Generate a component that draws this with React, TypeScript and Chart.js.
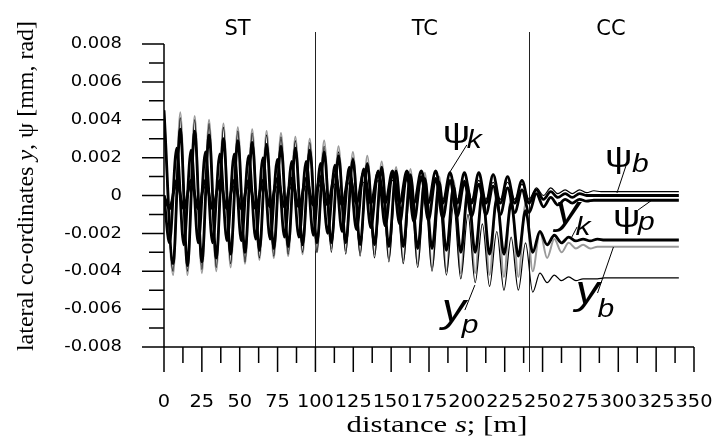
import React, { useEffect, useRef } from 'react';
import { Chart, registerables } from 'chart.js';
Chart.register(...registerables);

// extrema positions (distance s [m]) for lateral displacements y
const gridA = [0, 6.0, 10.75, 15.5, 20.25, 25.0, 29.75, 34.5, 39.25, 44.0,
  48.75, 53.5, 58.25, 63.0, 67.75, 72.5, 77.25, 82.0, 86.75, 91.5,
  96.25, 101.0, 105.75, 110.5, 115.25, 120.0, 124.75, 129.5, 134.25, 139.0,
  143.75, 148.5, 153.25, 158.0, 162.75, 167.5, 172.25, 177.0, 181.75, 186.5,
  191.25, 196.0, 200.75, 205.5, 210.25, 215.0, 219.75, 224.5, 229.25, 234.0,
  238.75, 243.5, 248.25, 253.0, 257.75, 262.5, 267.25, 272.0, 276.75, 281.5,
  286.25, 291.0, 300, 340];

// extrema positions for yaw angles psi
const gridB = [0, 3.6, 8.4, 13.1, 17.9, 22.6, 27.4, 32.1, 36.9, 41.6,
  46.4, 51.1, 55.9, 60.6, 65.4, 70.1, 74.9, 79.6, 84.4, 89.1,
  93.9, 98.6, 103.4, 108.1, 112.9, 117.6, 122.4, 127.1, 131.9, 136.6,
  141.4, 146.1, 150.9, 155.6, 160.4, 165.1, 169.9, 174.6, 179.4, 184.1,
  188.9, 193.6, 198.4, 203.1, 207.9, 212.6, 217.4, 222.1, 226.9, 231.6,
  236.4, 241.1, 245.9, 250.6, 255.4, 260.1, 264.9, 269.6, 274.4, 279.1,
  283.9, 288.6, 300, 340];

const yP = [0.0045, -0.0042, 0.0044, -0.0042, 0.0042, -0.0041, 0.0040, -0.0040, 0.0038, -0.0038,
  0.0036, -0.0036, 0.0035, -0.0034, 0.0034, -0.0033, 0.0033, -0.0032, 0.0031, -0.0031,
  0.0030, -0.0030, 0.0029, -0.0028, 0.0026, -0.0029, 0.0023, -0.0030, 0.0021, -0.0031,
  0.0018, -0.0033, 0.0015, -0.0034, 0.0014, -0.0036, 0.0012, -0.0038, 0.0010, -0.0040,
  0.0008, -0.0041, 0.0006, -0.0041, 0.0004, -0.0042, 0.0002, -0.0043, 0.0000, -0.0043,
  -0.0004, -0.0040, -0.0019, -0.0033, -0.0023, -0.0030, -0.0025, -0.0028, -0.0026, -0.0028,
  -0.0027, -0.0027, -0.0027, -0.0027];

const yK = [0.0045, -0.0036, 0.0035, -0.0037, 0.0034, -0.0035, 0.0032, -0.0033, 0.0030, -0.0031,
  0.0029, -0.0030, 0.0028, -0.0029, 0.0027, -0.0028, 0.0026, -0.0027, 0.0025, -0.0026,
  0.0024, -0.0025, 0.0023, -0.0025, 0.0021, -0.0025, 0.0019, -0.0026, 0.0017, -0.0026,
  0.0015, -0.0027, 0.0013, -0.0027, 0.0011, -0.0028, 0.0009, -0.0028, 0.0007, -0.0029,
  0.0005, -0.0030, 0.0003, -0.0030, 0.0001, -0.0031, -0.0002, -0.0031, -0.0004, -0.0032,
  -0.0008, -0.0030, -0.0019, -0.0026, -0.0021, -0.0025, -0.0022, -0.0024, -0.0023, -0.0024,
  -0.0023, -0.00235, -0.00235, -0.00235];

const yB = [0.0045, -0.0040, 0.0041, -0.0040, 0.0040, -0.0039, 0.0038, -0.0038, 0.0036, -0.0036,
  0.0034, -0.0035, 0.0033, -0.0033, 0.0032, -0.0032, 0.0031, -0.0031, 0.0029, -0.0030,
  0.0028, -0.0030, 0.0026, -0.0030, 0.0023, -0.0031, 0.0020, -0.0032, 0.0017, -0.0033,
  0.0013, -0.0035, 0.0010, -0.0036, 0.0006, -0.0038, 0.0003, -0.0040, -0.0001, -0.0042,
  -0.0005, -0.0044, -0.0010, -0.0046, -0.0015, -0.0048, -0.0019, -0.0050, -0.0022, -0.0050,
  -0.0025, -0.0051, -0.0041, -0.0046, -0.0042, -0.0045, -0.0043, -0.0045, -0.0044, -0.0044,
  -0.0044, -0.00435, -0.00435, -0.00435];

const psiP = [0.0000, -0.0025, 0.0025, -0.0026, 0.0024, -0.0025, 0.0023, -0.0025, 0.0022, -0.0024,
  0.0022, -0.0024, 0.0021, -0.0023, 0.0020, -0.0023, 0.0019, -0.0022, 0.0018, -0.0022,
  0.0018, -0.0021, 0.0017, -0.0020, 0.0016, -0.0019, 0.0015, -0.0018, 0.0014, -0.0017,
  0.0013, -0.0016, 0.0012, -0.0015, 0.0011, -0.0014, 0.0010, -0.0013, 0.0009, -0.0012,
  0.0008, -0.0011, 0.0007, -0.0011, 0.0006, -0.0010, 0.0005, -0.0010, 0.0004, -0.0009,
  0.0003, -0.0009, 0.0001, -0.0006, -0.0001, -0.0005, -0.0002, -0.0004, -0.0002, -0.0003,
  -0.00025, -0.00025, -0.00025, -0.00025];

const psiK = [0.0000, -0.0007, 0.0008, -0.0007, 0.0008, -0.0007, 0.0008, -0.0007, 0.0008, -0.0007,
  0.0008, -0.0007, 0.0008, -0.0007, 0.0008, -0.0006, 0.0009, -0.0006, 0.0009, -0.0006,
  0.0009, -0.0005, 0.0010, -0.0005, 0.0011, -0.0005, 0.0011, -0.0004, 0.0012, -0.0004,
  0.0012, -0.0004, 0.0013, -0.0004, 0.0013, -0.0004, 0.0013, -0.0004, 0.0013, -0.0004,
  0.0012, -0.0004, 0.0012, -0.0004, 0.0012, -0.0004, 0.0011, -0.0004, 0.0010, -0.0004,
  0.0008, -0.0004, 0.0003, -0.0002, 0.0002, -0.0001, 0.0001, -0.0001, 0.0001, 0.0000,
  0.0000, 0.0000, 0.0000, 0.0000];

const psiB = [0.0000, -0.0005, 0.0005, -0.0005, 0.0005, -0.0005, 0.0005, -0.0005, 0.0005, -0.0005,
  0.0005, -0.0005, 0.0005, -0.0005, 0.0005, -0.0005, 0.0005, -0.0004, 0.0005, -0.0004,
  0.0005, -0.0004, 0.0006, -0.0004, 0.0006, -0.0004, 0.0007, -0.0004, 0.0007, -0.0003,
  0.0008, -0.0003, 0.0008, -0.0003, 0.0008, -0.0003, 0.0008, -0.0003, 0.0008, -0.0002,
  0.0008, -0.0002, 0.0008, -0.0002, 0.0008, -0.0002, 0.0007, -0.0002, 0.0007, -0.0002,
  0.0006, -0.0002, 0.0004, 0.0000, 0.0004, 0.0001, 0.0003, 0.0001, 0.0003, 0.00015,
  0.00025, 0.0002, 0.0002, 0.0002];

const xMajorTicks = [0, 25, 50, 75, 100, 125, 150, 175, 200, 225, 250, 275, 300, 325, 350];
const xTickLabels = ['0', '25', '50', '75', '100', '125', '150', '175', '200', '225', '250', '275', '300', '325', '350'];
const xMinorTicks = [12.5, 37.5, 62.5, 87.5, 112.5, 137.5, 162.5, 187.5, 212.5, 237.5, 262.5, 287.5, 312.5, 337.5];
const yMajorTicks = [0.008, 0.006, 0.004, 0.002, 0, -0.002, -0.004, -0.006, -0.008];
const yTickLabels = ['0.008', '0.006', '0.004', '0.002', '0', '-0.002', '-0.004', '-0.006', '-0.008'];
const yMinorTicks = [0.007, 0.005, 0.003, 0.001, -0.001, -0.003, -0.005, -0.007];

const sectionBounds = [100, 241];
const sectionNames = ['ST', 'TC', 'CC'];
const sectionLabelS = [48.6, 172.2, 295.2];

// annotations: main glyph, subscript, positions in data units
const annotations = [
  { main: 'ψ', sub: 'k', italicMain: false, at: [184.1, 0.00277], subAt: [200.0, 0.00251], from: [200.0, 0.00267], to: [188.8, 0.00124] },
  { main: 'ψ', sub: 'b', italicMain: false, at: [291.2, 0.00150], subAt: [309.1, 0.00124], from: [305.7, 0.00172], to: [299.1, 0.00013] },
  { main: 'ψ', sub: 'p', italicMain: false, at: [296.5, -0.00166], subAt: [313.0, -0.00182], from: [322.3, -0.00024], to: [313.0, -0.00077] },
  { main: 'y', sub: 'k', italicMain: true, at: [258.6, -0.00150], subAt: [271.8, -0.00209], from: [268.8, -0.00227], to: [272.8, -0.00166] },
  { main: 'y', sub: 'b', italicMain: true, at: [271.8, -0.00573], subAt: [286.3, -0.00642], from: [286.3, -0.00515], to: [296.8, -0.00272] },
  { main: 'y', sub: 'p', italicMain: true, at: [183.5, -0.00668], subAt: [196.7, -0.00726], from: [198.7, -0.00605], to: [205.3, -0.00473] },
];

const SANS = '"Liberation Sans", Arial, sans-serif';
const DSANS = '"DejaVu Sans", sans-serif';
const SERIF = '"Liberation Serif", "Times New Roman", serif';

function drawParts(ctx: CanvasRenderingContext2D, parts: [string, string][], x: number, y: number, align: string, sx: number, sy = 1, rot = 0) {
  ctx.save();
  ctx.translate(x, y);
  if (rot) ctx.rotate(rot);
  ctx.scale(sx, sy);
  const widths = parts.map(([t, f]) => { ctx.font = f; return ctx.measureText(t).width; });
  const total = widths.reduce((a, b) => a + b, 0);
  let cx = align === 'center' ? -total / 2 : align === 'right' ? -total : 0;
  ctx.textAlign = 'left';
  parts.forEach(([t, f], i) => { ctx.font = f; ctx.fillText(t, cx, 0); cx += widths[i]; });
  ctx.restore();
}

const decorPlugin = {
  id: 'decor',
  beforeDatasetsDraw(chart: any) {
    const ctx: CanvasRenderingContext2D = chart.ctx;
    const xs = chart.scales.x;
    const ca = chart.chartArea;
    ctx.save();
    ctx.strokeStyle = '#222';
    ctx.lineWidth = 1;
    sectionBounds.forEach((s) => {
      const px = Math.round(xs.getPixelForValue(s)) + 0.5;
      ctx.beginPath();
      ctx.moveTo(px, ca.top - 12);
      ctx.lineTo(px, ca.bottom + 25);
      ctx.stroke();
    });
    ctx.restore();
  },
  afterDraw(chart: any) {
    const ctx: CanvasRenderingContext2D = chart.ctx;
    const xs = chart.scales.x;
    const ys = chart.scales.y;
    const ca = chart.chartArea;
    ctx.save();
    ctx.strokeStyle = '#000';
    ctx.fillStyle = '#000';
    ctx.lineWidth = 1.5;
    const left = xs.getPixelForValue(0);
    const bottom = ys.getPixelForValue(-0.008);
    const top = ys.getPixelForValue(0.008);
    const right = xs.getPixelForValue(350);
    ctx.beginPath();
    ctx.moveTo(left, top);
    ctx.lineTo(left, bottom + 25);
    ctx.moveTo(left - 22, bottom);
    ctx.lineTo(right, bottom);
    yMajorTicks.forEach((v) => { const p = ys.getPixelForValue(v); ctx.moveTo(left - 22, p); ctx.lineTo(left, p); });
    yMinorTicks.forEach((v) => { const p = ys.getPixelForValue(v); ctx.moveTo(left - 15, p); ctx.lineTo(left, p); });
    xMajorTicks.forEach((v) => { const p = xs.getPixelForValue(v); ctx.moveTo(p, bottom); ctx.lineTo(p, bottom + 25); });
    xMinorTicks.forEach((v) => { const p = xs.getPixelForValue(v); ctx.moveTo(p, bottom); ctx.lineTo(p, bottom + 16); });
    ctx.stroke();

    ctx.textBaseline = 'middle';
    yMajorTicks.forEach((v, i) => {
      drawParts(ctx, [[yTickLabels[i], `16px ${DSANS}`]], left - 42, ys.getPixelForValue(v), 'right', 1.12);
    });
    xMajorTicks.forEach((v, i) => {
      drawParts(ctx, [[xTickLabels[i], `17px ${DSANS}`]], xs.getPixelForValue(v), bottom + 56, 'center', 1.14);
    });
    drawParts(ctx, [['distance ', `24px ${SERIF}`], ['s', `italic 24px ${SERIF}`], ['; [m]', `24px ${SERIF}`]],
      (left + right) / 2 + 8, bottom + 79, 'center', 1.28);
    drawParts(ctx, [['lateral co-ordinates ', `24px ${SERIF}`], ['y', `italic 24px ${SERIF}`], [', ψ [mm, rad]', `24px ${SERIF}`]],
      27, 186, 'center', 1, 1, -Math.PI / 2);

    sectionNames.forEach((n, i) => {
      drawParts(ctx, [[n, `21px ${DSANS}`]], xs.getPixelForValue(sectionLabelS[i]), ca.top - 14, 'center', 1.0);
    });

    ctx.textBaseline = 'alphabetic';
    ctx.lineWidth = 1;
    annotations.forEach((a) => {
      const mainFont = a.italicMain ? `italic 40px ${SANS}` : `32px ${SANS}`;
      drawParts(ctx, [[a.main, mainFont]], xs.getPixelForValue(a.at[0]), ys.getPixelForValue(a.at[1]), 'left', 1.2);
      drawParts(ctx, [[a.sub, `italic 25px ${SANS}`]], xs.getPixelForValue(a.subAt[0]), ys.getPixelForValue(a.subAt[1]), 'left', 1.2);
      ctx.beginPath();
      ctx.moveTo(xs.getPixelForValue(a.from[0]), ys.getPixelForValue(a.from[1]));
      ctx.lineTo(xs.getPixelForValue(a.to[0]), ys.getPixelForValue(a.to[1]));
      ctx.stroke();
    });
    ctx.restore();
  },
};

function pts(xs: number[], vs: number[]) {
  return xs.map((x, i) => ({ x, y: vs[i] }));
}

export default function App() {
  const ref = useRef<HTMLCanvasElement | null>(null);
  useEffect(() => {
    if (!ref.current) return;
    const common = { pointRadius: 0, cubicInterpolationMode: 'monotone' as const, borderJoinStyle: 'round' as const, fill: false };
    const chart = new Chart(ref.current, {
      type: 'line',
      data: {
        datasets: [
          { ...common, label: 'psi_k', data: pts(gridB, psiK), borderColor: '#000', borderWidth: 2.8, order: 1 },
          { ...common, label: 'psi_p', data: pts(gridB, psiP), borderColor: '#000', borderWidth: 2.8, order: 2 },
          { ...common, label: 'psi_b', data: pts(gridB, psiB), borderColor: '#000', borderWidth: 1.2, order: 3 },
          { ...common, label: 'y_k', data: pts(gridA, yK), borderColor: '#000', borderWidth: 2.8, order: 4 },
          { ...common, label: 'y_b', data: pts(gridA, yB), borderColor: '#000', borderWidth: 1.2, order: 5 },
          { ...common, label: 'y_p', data: pts(gridA, yP), borderColor: '#9a9a9a', borderWidth: 2, order: 6 },
        ],
      },
      options: {
        animation: false,
        responsive: false,
        maintainAspectRatio: false,
        layout: { padding: { left: 164, right: 19, top: 44, bottom: 94 } },
        plugins: { legend: { display: false }, tooltip: { enabled: false } },
        scales: {
          x: { type: 'linear', min: 0, max: 350, display: false },
          y: { type: 'linear', min: -0.008, max: 0.008, display: false },
        },
      },
      plugins: [decorPlugin],
    });
    return () => chart.destroy();
  }, []);
  return (
    <div style={{ position: 'absolute', left: 0, top: 0, width: 713, height: 441, background: '#fff' }}>
      <canvas ref={ref} width={713} height={441} />
    </div>
  );
}
